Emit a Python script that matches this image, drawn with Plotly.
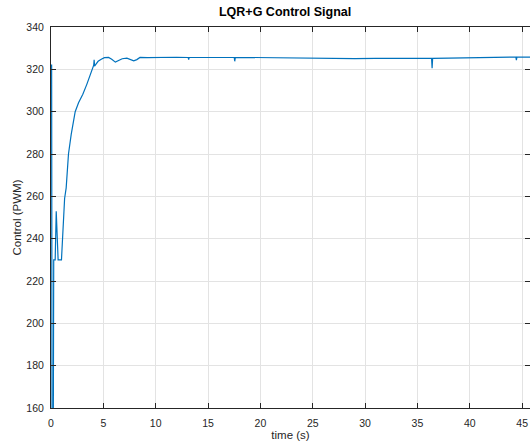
import plotly.graph_objects as go

# Data (time in s, control in PWM)
time_s = [0.0, 0.06, 0.1, 0.22, 0.26, 0.4, 0.5, 0.68, 1.0, 1.1, 1.2, 1.3, 1.45, 1.67,
          1.93, 2.18, 2.31, 2.63, 3.04, 3.42, 3.9, 4.08, 4.12, 4.16, 4.3, 4.5, 4.8,
          5.1, 5.5, 5.8, 6.15, 6.5, 6.8, 7.25, 7.6, 7.9, 8.2, 8.5, 9.2, 10.0, 11.0,
          12.0, 13.1, 13.15, 13.2, 14.5, 16.0, 17.5, 17.55, 17.6, 19.0, 21.0, 21.8,
          23.0, 25.0, 27.0, 29.0, 31.0, 33.0, 35.0, 36.35, 36.4, 36.45, 38.0, 40.0,
          40.6, 42.0, 44.4, 44.45, 44.5, 46.0]
control_pwm = [322.0, 322.0, 150.0, 150.0, 230.0, 230.0, 253.0, 230.0, 230.0, 242.0,
               253.0, 259.0, 264.0, 280.0, 289.3, 297.4, 300.0, 304.2, 308.2, 312.9,
               320.0, 322.0, 324.5, 321.5, 322.5, 323.8, 324.8, 325.5, 325.6, 324.8,
               323.4, 324.2, 325.0, 325.3, 324.6, 324.0, 324.6, 325.6, 325.5, 325.6,
               325.6, 325.7, 325.6, 324.6, 325.6, 325.7, 325.6, 325.6, 323.8, 325.5,
               325.6, 325.5, 325.2, 325.2, 325.1, 325.2, 325.1, 325.2, 325.2, 325.3,
               325.2, 320.5, 325.2, 325.3, 325.4, 325.7, 325.8, 325.8, 324.3, 325.8,
               325.8]

x_ticks = [0, 5, 10, 15, 20, 25, 30, 35, 40, 45]
y_ticks = [160, 180, 200, 220, 240, 260, 280, 300, 320, 340]

FONT = "Liberation Sans, Arial, Helvetica, sans-serif"
AX = "#262626"
GRID = "#e3e3e3"

fig = go.Figure()
fig.add_trace(go.Scatter(x=time_s, y=control_pwm, mode="lines",
                         line=dict(color="#0072BD", width=1.2),
                         showlegend=False, hoverinfo="skip"))

fig.update_layout(
    width=530, height=443,
    margin=dict(l=51, r=0, t=27, b=35, pad=0),
    paper_bgcolor="white", plot_bgcolor="white",
    font=dict(family=FONT, size=10, color=AX),
    title=dict(text="<b>LQR+G Control Signal</b>", x=0.538, xanchor="center",
               y=1 - 12 / 443, yanchor="middle",
               font=dict(family=FONT, size=12.5, color="black")),
)
fig.update_xaxes(
    range=[0, 45.75], tickvals=x_ticks, ticktext=[str(v) for v in x_ticks],
    showgrid=True, gridcolor=GRID, gridwidth=1, zeroline=False,
    showline=True, linecolor=AX, linewidth=1, mirror="ticks",
    ticks="inside", ticklen=5, tickcolor=AX, tickwidth=1,
    ticklabelstandoff=5,
    tickfont=dict(family=FONT, size=10.5, color=AX),
    title=dict(text="time (s)", font=dict(family=FONT, size=11.5, color=AX), standoff=1),
)
fig.update_yaxes(
    range=[160, 340], tickvals=y_ticks, ticktext=[str(v) for v in y_ticks],
    showgrid=True, gridcolor=GRID, gridwidth=1, zeroline=False,
    showline=True, linecolor=AX, linewidth=1, mirror="ticks",
    ticks="inside", ticklen=5, tickcolor=AX, tickwidth=1,
    ticklabelstandoff=4,
    tickfont=dict(family=FONT, size=10.5, color=AX),
    title=dict(text="Control (PWM)", font=dict(family=FONT, size=11.5, color=AX), standoff=2),
)

fig.write_html("out.html")
